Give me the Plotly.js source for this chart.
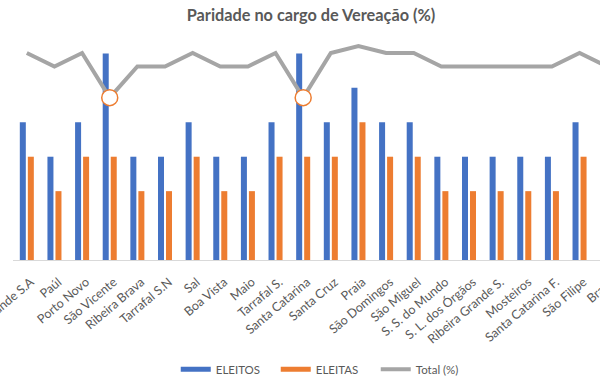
<!DOCTYPE html>
<html>
<head>
<meta charset="utf-8">
<script src="https://cdn.plot.ly/plotly-3.0.1.min.js"></script>
<style>
html,body{margin:0;padding:0;overflow:hidden;width:600px;height:383px;background:#fff;}
#chart{width:640px;height:383px;}
</style>
</head>
<body>
<div id="chart"></div>
<script>
const categories = ["Ribeira Grande S.A","Paúl","Porto Novo","São Vicente","Ribeira Brava","Tarrafal S.N","Sal","Boa Vista","Maio","Tarrafal S.","Santa Catarina","Santa Cruz","Praia","São Domingos","São Miguel","S. S. do Mundo","S. L. dos Órgãos","Ribeira Grande S.","Mosteiros","Santa Catarina F.","São Filipe","Brava"];
const eleitos = [4,3,4,6,3,3,4,3,3,4,6,4,5,4,4,3,3,3,3,3,4,3];
const eleitas = [3,2,3,3,2,2,3,2,2,3,3,3,4,3,3,2,2,2,2,2,3,2];
const totalPct = [42.9,40,42.9,33.3,40,40,42.9,40,40,42.9,33.3,42.9,44.4,42.9,42.9,40,40,40,40,40,42.9,40];

const BLUE = "#4472C4", ORANGE = "#ED7D31", GREY = "#A5A5A5", TXT = "#595959";
const minPct = Math.min(...totalPct);
const markerSizes = totalPct.map(v => v === minPct ? 16 : 0);

const traces = [
  {type:"bar", x:categories, y:eleitos, name:"ELEITOS", marker:{color:BLUE}, showlegend:false, legendgroup:"a", hoverinfo:"y"},
  {type:"bar", x:categories, y:eleitas, name:"ELEITAS", marker:{color:ORANGE}, showlegend:false, legendgroup:"b", hoverinfo:"y"},
  {type:"scatter", mode:"lines+markers", x:categories, y:totalPct, name:"Total (%)", yaxis:"y2",
   line:{color:GREY, width:4}, marker:{size:markerSizes, color:"#FFFFFF", opacity:1, line:{color:ORANGE, width:1.5}},
   showlegend:false, legendgroup:"c"},
  {type:"scatter", mode:"lines", x:[null], y:[null], name:"ELEITOS", line:{color:BLUE, width:5}, legendgroup:"a"},
  {type:"scatter", mode:"lines", x:[null], y:[null], name:"ELEITAS", line:{color:ORANGE, width:5}, legendgroup:"b"},
  {type:"scatter", mode:"lines", x:[null], y:[null], name:"Total (%)", line:{color:GREY, width:4}, legendgroup:"c"}
];

const layout = {
  width:640, height:383,
  margin:{l:13, r:18.5, t:30, b:122.5, autoexpand:false},
  paper_bgcolor:"#FFFFFF", plot_bgcolor:"#FFFFFF",
  font:{family:"Lato, 'Open Sans', sans-serif", color:TXT, size:12},
  title:{text:"<b>Paridade no cargo de Vereação (%)</b>", xref:"container", x:311/640, xanchor:"center",
         yref:"container", y:1-15/383, yanchor:"middle", font:{size:16.3, color:TXT, family:"Lato, sans-serif"}},
  barmode:"group", bargap:0.42, bargroupgap:0.25,
  xaxis:{type:"category", range:[-0.5, 21.5], tickangle:-40, showline:true, linecolor:"#D9D9D9", linewidth:1,
         ticks:"", ticklabelstandoff:9, ticklabelshift:4, showgrid:false, tickfont:{size:12.5, color:TXT}, fixedrange:true, automargin:false},
  yaxis:{range:[0, 6.681], showticklabels:false, showgrid:false, zeroline:false, ticks:"", fixedrange:true, automargin:false},
  yaxis2:{overlaying:"y", side:"right", range:[-1.61, 47.85], showticklabels:false, showgrid:false, zeroline:false, ticks:"", fixedrange:true, automargin:false},
  legend:{orientation:"h", x:(326-13)/608.5, xanchor:"center", y:(260.5-370)/230.5, yanchor:"middle",
          font:{size:11.5, color:TXT}, itemwidth:30, entrywidth:55, entrywidthmode:"pixels", traceorder:"normal"},
  showlegend:true
};

Plotly.newPlot("chart", traces, layout, {displayModeBar:false, staticPlot:true});
</script>
</body>
</html>
